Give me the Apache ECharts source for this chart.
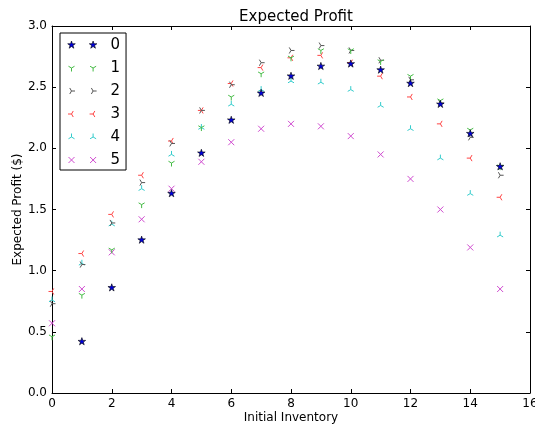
<!DOCTYPE html>
<html><head><meta charset="utf-8">
<script src="https://cdn.jsdelivr.net/npm/echarts@6/dist/echarts.min.js"></script>
<style>html,body{margin:0;padding:0;background:#fff}#c{width:535px;height:426px}</style>
</head><body><div id="c"></div>
<script>
// ---- data ----
const inventory = [0,1,2,3,4,5,6,7,8,9,10,11,12,13,14,15];
const seriesNames = ['0','1','2','3','4','5'];
const profit0 = [null,0.42,0.86,1.25,1.63,1.96,2.23,2.45,2.59,2.67,2.69,2.64,2.53,2.36,2.12,1.85];
const profit1 = [0.46,0.80,1.17,1.54,1.88,2.17,2.42,2.61,2.74,2.80,2.80,2.71,2.59,2.39,2.15,1.85];
const profit2 = [0.73,1.05,1.39,1.72,2.04,2.31,2.52,2.70,2.80,2.84,2.80,2.72,2.56,2.37,2.09,1.78];
const profit3 = [0.83,1.14,1.46,1.78,2.06,2.31,2.53,2.66,2.74,2.76,2.70,2.59,2.42,2.20,1.92,1.60];
const profit4 = [0.76,1.06,1.38,1.67,1.95,2.17,2.36,2.48,2.55,2.54,2.48,2.35,2.16,1.92,1.63,1.29];
const profit5 = [0.57,0.85,1.15,1.42,1.67,1.89,2.05,2.16,2.20,2.18,2.10,1.95,1.75,1.50,1.19,0.85];
const xTicks = [0,2,4,6,8,10,12,14,16];
const yTicks = [0.0,0.5,1.0,1.5,2.0,2.5,3.0];

const allProfit = [profit0,profit1,profit2,profit3,profit4,profit5];

// ---- marker shapes ----
function f(v){return (Math.round(v*1000)/1000).toString();}
function shape(kind, cx, cy, r){
  const L = (x,y)=>'M'+f(cx)+','+f(cy)+' L'+f(cx+x*r)+','+f(cy+y*r)+' ';
  if(kind==='star'){
    let s='';
    for(let i=0;i<10;i++){
      const a=-Math.PI/2+i*Math.PI/5, rr = i%2===0? r : r*0.382;
      s += (i===0?'M':'L')+f(cx+rr*Math.cos(a))+','+f(cy+rr*Math.sin(a))+' ';
    }
    return s+'Z ';
  }
  if(kind==='tri_down') return L(0,1)+L(-0.866,-0.5)+L(0.866,-0.5);
  if(kind==='tri_up') return L(0,-1)+L(-0.866,0.5)+L(0.866,0.5);
  if(kind==='tri_left') return L(-1,0)+L(0.5,-0.866)+L(0.5,0.866);
  if(kind==='tri_right') return L(1,0)+L(-0.5,-0.866)+L(-0.5,0.866);
  if(kind==='x') return 'M'+f(cx-r)+','+f(cy-r)+' L'+f(cx+r)+','+f(cy+r)+' M'+f(cx-r)+','+f(cy+r)+' L'+f(cx+r)+','+f(cy-r)+' ';
}
const kinds = ['star','tri_down','tri_right','tri_left','tri_up','x'];
const fills = ['#0000dd','rgba(0,0,0,0)','rgba(0,0,0,0)','rgba(0,0,0,0)','rgba(0,0,0,0)','rgba(0,0,0,0)'];
const borders = ['#000000','#44bb44','#555555','#ff4444','#33cccc','#d04cd0'];
const sizes = [8,7,7,7,7,6];
const bw = [0.6,1,1,1,1,1];

function symbolPath(k){ return 'path://M-1,-1 M1,1 '+shape(k,0,0,1); }
function legendIcon(k,i){
  const r = sizes[i]/2;
  return 'path://M0,-4 M38,4 '+shape(k,4,0,r)+shape(k,25.6,0,r);
}

const series = seriesNames.map((n,i)=>({
  name:n, type:'scatter',
  data: inventory.map((x,j)=>[x, allProfit[i][j]]).filter(p=>p[1]!==null),
  symbol: symbolPath(kinds[i]), symbolSize: sizes[i],
  itemStyle:{color:fills[i], borderColor:borders[i], borderWidth:bw[i], opacity:1},
  emphasis:{disabled:true},
  z: 10 - i
}));

const axisCommon = {
  axisLine:{show:true,onZero:false,lineStyle:{color:'#000',width:1}},
  axisTick:{show:true,inside:true,length:4,lineStyle:{color:'#000'}},
  splitLine:{show:false}
};

const chart = echarts.init(document.getElementById('c'), null, {renderer:'canvas'});
chart.setOption({
  animation:false,
  backgroundColor:'#fff',
  title:{text:'Expected Profit', left:291, top:5, textAlign:'center',
    textStyle:{fontFamily:'DejaVu Sans', fontSize:15, fontWeight:'normal', color:'#000'}},
  grid:{left:52, right:5, top:26, bottom:33, containLabel:false, outerBoundsMode:'none'},
  legend:{
    orient:'vertical', left:60, top:33,
    data: seriesNames.map((n,i)=>({name:n, icon:legendIcon(kinds[i],i),
      itemStyle:{color:fills[i], borderColor:borders[i], borderWidth:bw[i]}})),
    itemWidth:38, itemHeight:8, itemGap:7,
    padding:[4,6,2,7],
    itemStyle:{borderWidth:'inherit'},
    borderColor:'#000', borderWidth:1, backgroundColor:'#fff', borderRadius:0,
    textStyle:{fontFamily:'DejaVu Sans', fontSize:15, color:'#000', lineHeight:16},
    selectedMode:false
  },
  xAxis:[
    Object.assign({type:'value', min:xTicks[0], max:xTicks[xTicks.length-1], interval:2,
      name:'Initial Inventory', nameLocation:'middle', nameGap:19, nameMoveOverlap:false,
      nameTextStyle:{fontFamily:'DejaVu Sans', fontSize:12, color:'#000'},
      axisLabel:{fontFamily:'DejaVu Sans', fontSize:12, color:'#000', margin:5}}, axisCommon),
    Object.assign({type:'value', position:'top', min:0, max:16, interval:2,
      axisLabel:{show:false}}, axisCommon)
  ],
  yAxis:[
    Object.assign({type:'value', min:yTicks[0], max:yTicks[yTicks.length-1], interval:0.5,
      name:'Expected Profit ($)', nameLocation:'middle', nameGap:28, nameRotate:90, nameMoveOverlap:false,
      nameTextStyle:{fontFamily:'DejaVu Sans', fontSize:12, color:'#000'},
      axisLabel:{fontFamily:'DejaVu Sans', fontSize:12, color:'#000', margin:5,
        formatter:v=>v.toFixed(1)}}, axisCommon),
    Object.assign({type:'value', position:'right', min:0, max:3, interval:0.5,
      axisLabel:{show:false}}, axisCommon)
  ],
  series: series
});
</script></body></html>
